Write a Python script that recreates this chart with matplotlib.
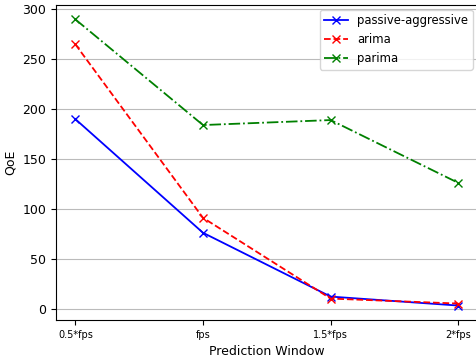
import matplotlib
matplotlib.use('Agg')
import matplotlib.pyplot as plt

windows = ['0.5*fps', 'fps', '1.5*fps', '2*fps']
passive_aggressive = [190, 76, 12, 3]
arima = [265, 91, 10, 5]
parima = [290, 184, 189, 126]

fig = plt.figure(figsize=(4.76, 3.59), dpi=100)
ax = fig.add_axes([0.118, 0.109, 0.885, 0.877])

x = range(len(windows))
ax.plot(x, passive_aggressive, 'b-x', label='passive-aggressive', lw=1.3)
ax.plot(x, arima, 'r--x', label='arima', lw=1.3)
ax.plot(x, parima, 'g-.x', label='parima', lw=1.3)

ax.set_xticks(list(x))
ax.set_xticklabels(windows, fontsize=7)
ax.tick_params(axis='y', labelsize=9)
ax.grid(axis='y', color='#bbbbbb')
ax.set_xlabel('Prediction Window', fontsize=9)
ax.set_ylabel('QoE', fontsize=9)
ax.legend(loc='upper right', fontsize=8.4, borderaxespad=0.4)

fig.savefig('out.png', dpi=100)
